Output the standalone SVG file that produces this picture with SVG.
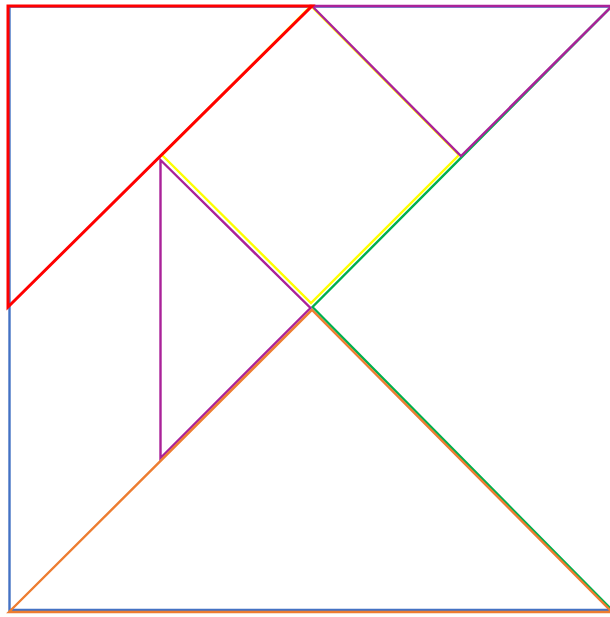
<svg xmlns="http://www.w3.org/2000/svg" width="610" height="617" viewBox="0 0 610 617">
<style>
polygon{fill:none;stroke-linejoin:miter;stroke-width:2.4}
#blue polygon{stroke:#4472C4}
#green polygon{stroke:#00B050}
#yellow polygon{stroke:#FFFF00}
#purple1 polygon,#purple2 polygon{stroke:#AA2299}
#orange polygon{stroke:#ED7D31}
#red polygon{stroke:#FF0000;stroke-width:3}
</style>
<rect width="610" height="617" fill="#fff"/>
<g id="blue"><polygon points="9.5,6.5 614,6.5 614,610 9.5,610"/></g>
<g id="green"><polygon points="612,6 312.5,307 612,610"/></g>
<g id="yellow"><polygon points="311,6 459,155 311,303 162,155"/></g>
<g id="purple2"><polygon points="160.5,160 310.5,308 160.5,458"/></g>
<g id="orange"><polygon points="9,612 312,310 612,612"/></g>
<g id="purple1"><polygon points="312,6 612,6 461,156"/></g>
<g id="red"><polygon points="8,6 312,6 8,307"/></g>
</svg>
